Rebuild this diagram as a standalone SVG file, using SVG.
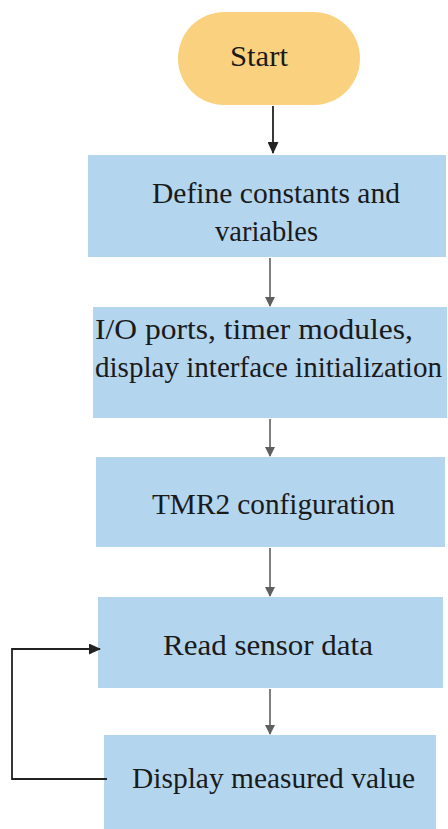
<svg xmlns="http://www.w3.org/2000/svg" width="448" height="829" viewBox="0 0 448 829">
<style>
.box{fill:#B4D5EE}
.t{font-family:"Liberation Serif","DejaVu Serif","Times New Roman",serif;font-size:29px;fill:#1a1a1a}
.gl{stroke:#5f5f5f;stroke-width:1.6;fill:none}
.bl{stroke:#222;stroke-width:1.8;fill:none}
</style>
<defs>
<marker id="ag" markerWidth="10" markerHeight="10" refX="9" refY="5" orient="auto" markerUnits="userSpaceOnUse" viewBox="0 0 10 10"><path d="M0,0 L10,5 L0,10 z" fill="#5f5f5f"/></marker>
<marker id="ab" markerWidth="12" markerHeight="11" refX="11" refY="5.5" orient="auto" markerUnits="userSpaceOnUse" viewBox="0 0 12 11"><path d="M0,0 L12,5.5 L0,11 z" fill="#222"/></marker>
</defs>
<rect width="448" height="829" fill="#fff"/>
<g id="start">
<rect x="178" y="12" width="182" height="93" rx="46.5" ry="46.5" fill="#FAD17E"/>
<text class="t" x="230" y="66" textLength="58" lengthAdjust="spacingAndGlyphs">Start</text>
</g>
<g id="define">
<rect class="box" x="88" y="155" width="358" height="102"/>
<text class="t" x="152" y="203" textLength="248" lengthAdjust="spacingAndGlyphs">Define constants and</text>
<text class="t" x="215" y="241" textLength="103" lengthAdjust="spacingAndGlyphs">variables</text>
</g>
<g id="init">
<rect class="box" x="93" y="307" width="354" height="111"/>
<text class="t" x="95" y="339" textLength="318" lengthAdjust="spacingAndGlyphs">I/O ports, timer modules,</text>
<text class="t" x="95" y="377" textLength="347" lengthAdjust="spacingAndGlyphs">display interface initialization</text>
</g>
<g id="tmr2">
<rect class="box" x="96" y="457" width="349" height="90"/>
<text class="t" x="152" y="514" textLength="243" lengthAdjust="spacingAndGlyphs">TMR2 configuration</text>
</g>
<g id="read">
<rect class="box" x="98" y="597" width="345" height="91"/>
<text class="t" x="163" y="655" textLength="210" lengthAdjust="spacingAndGlyphs">Read sensor data</text>
</g>
<g id="display">
<rect class="box" x="104" y="735" width="332" height="94"/>
<text class="t" x="132" y="788" textLength="283" lengthAdjust="spacingAndGlyphs">Display measured value</text>
</g>
<g id="connectors">
<line class="bl" x1="273" y1="106" x2="273" y2="153" marker-end="url(#ab)"/>
<line class="gl" x1="270" y1="258" x2="270" y2="306" marker-end="url(#ag)"/>
<line class="gl" x1="270" y1="419" x2="270" y2="456" marker-end="url(#ag)"/>
<line class="gl" x1="270" y1="548" x2="270" y2="596" marker-end="url(#ag)"/>
<line class="gl" x1="270" y1="689" x2="270" y2="734" marker-end="url(#ag)"/>
<path class="bl" d="M107,779 H12 V649 H100" marker-end="url(#ab)"/>
</g>
</svg>
